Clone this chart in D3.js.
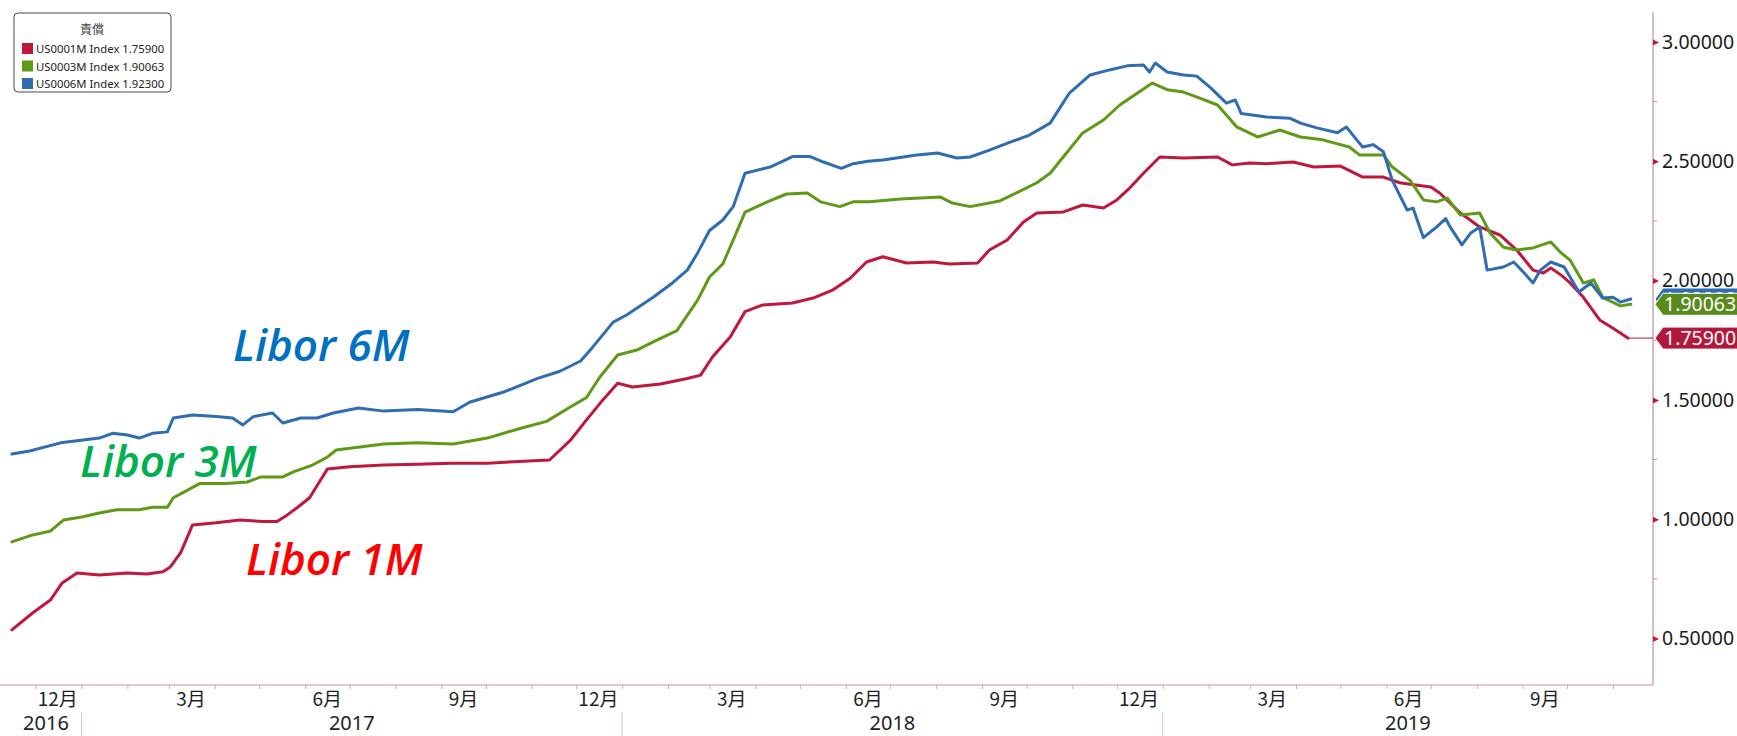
<!DOCTYPE html>
<html>
<head>
<meta charset="utf-8">
<script src="https://cdn.jsdelivr.net/npm/d3@7/dist/d3.min.js"></script>
<style>
  html, body { margin: 0; padding: 0; background: #ffffff; }
  svg { display: block; }
</style>
</head>
<body>
<svg id="chart" width="1737" height="736"></svg>
<script>
// ---- USD LIBOR fixings (percent) ----
const libor1mDates = ["2016-11-15","2016-11-29","2016-12-11","2016-12-19","2016-12-29","2017-01-13","2017-02-01","2017-02-14","2017-02-25","2017-03-02","2017-03-09","2017-03-17","2017-04-02","2017-04-18","2017-05-04","2017-05-13","2017-05-20","2017-05-27","2017-06-04","2017-06-11","2017-06-16","2017-07-01","2017-07-24","2017-08-16","2017-09-07","2017-10-02","2017-11-13","2017-11-27","2017-12-08","2017-12-19","2017-12-29","2018-01-08","2018-01-27","2018-02-14","2018-02-23","2018-03-03","2018-03-15","2018-03-25","2018-04-06","2018-04-26","2018-05-10","2018-05-23","2018-06-04","2018-06-15","2018-06-26","2018-07-12","2018-07-30","2018-08-10","2018-08-29","2018-09-06","2018-09-18","2018-09-29","2018-10-08","2018-10-26","2018-11-08","2018-11-22","2018-12-01","2018-12-10","2018-12-19","2018-12-30","2019-01-15","2019-02-07","2019-02-17","2019-03-01","2019-03-12","2019-03-30","2019-04-13","2019-05-01","2019-05-16","2019-05-30","2019-06-10","2019-06-22","2019-07-01","2019-07-07","2019-07-21","2019-08-03","2019-08-17","2019-08-28","2019-09-08","2019-09-15","2019-09-20","2019-09-27","2019-10-03","2019-10-12","2019-10-23","2019-11-01","2019-11-11"];
const libor1mValues = [0.536,0.607,0.661,0.733,0.775,0.766,0.775,0.770,0.780,0.800,0.860,0.976,0.985,0.997,0.990,0.990,1.018,1.050,1.090,1.160,1.210,1.220,1.227,1.230,1.235,1.235,1.248,1.330,1.416,1.500,1.570,1.554,1.567,1.590,1.604,1.680,1.764,1.870,1.898,1.906,1.927,1.960,2.010,2.078,2.100,2.074,2.078,2.070,2.074,2.128,2.170,2.246,2.283,2.288,2.317,2.304,2.338,2.390,2.450,2.518,2.514,2.518,2.485,2.493,2.490,2.497,2.476,2.480,2.434,2.434,2.410,2.400,2.392,2.367,2.283,2.225,2.190,2.128,2.044,2.032,2.053,2.023,1.990,1.930,1.835,1.800,1.759];

const libor3mDates = ["2016-11-15","2016-11-29","2016-12-11","2016-12-20","2017-01-02","2017-01-13","2017-01-25","2017-02-09","2017-02-18","2017-02-28","2017-03-04","2017-03-13","2017-03-22","2017-04-09","2017-04-23","2017-05-02","2017-05-17","2017-05-24","2017-06-06","2017-06-16","2017-06-22","2017-07-08","2017-07-24","2017-08-16","2017-09-09","2017-10-02","2017-10-24","2017-11-11","2017-11-27","2017-12-08","2017-12-17","2017-12-29","2018-01-11","2018-01-22","2018-02-07","2018-02-21","2018-03-01","2018-03-10","2018-03-17","2018-03-25","2018-04-09","2018-04-22","2018-05-06","2018-05-15","2018-05-28","2018-06-06","2018-06-17","2018-07-08","2018-08-04","2018-08-12","2018-08-24","2018-09-13","2018-09-25","2018-10-08","2018-10-17","2018-10-28","2018-11-08","2018-11-22","2018-12-03","2018-12-15","2018-12-25","2019-01-04","2019-01-15","2019-01-26","2019-02-07","2019-02-13","2019-02-20","2019-03-06","2019-03-21","2019-04-04","2019-04-19","2019-05-07","2019-05-14","2019-05-30","2019-06-05","2019-06-17","2019-06-26","2019-07-05","2019-07-12","2019-07-21","2019-08-03","2019-08-10","2019-08-19","2019-08-28","2019-09-08","2019-09-20","2019-09-27","2019-10-03","2019-10-12","2019-10-19","2019-10-25","2019-11-06","2019-11-13"];
const libor3mValues = [0.905,0.934,0.950,0.997,1.010,1.026,1.040,1.040,1.050,1.050,1.090,1.120,1.150,1.150,1.156,1.177,1.177,1.198,1.227,1.260,1.290,1.303,1.315,1.320,1.315,1.340,1.380,1.410,1.470,1.510,1.596,1.688,1.709,1.743,1.790,1.918,2.015,2.070,2.170,2.287,2.330,2.363,2.367,2.330,2.310,2.330,2.330,2.342,2.350,2.325,2.310,2.334,2.370,2.410,2.450,2.535,2.619,2.673,2.736,2.786,2.828,2.800,2.790,2.765,2.736,2.694,2.644,2.602,2.631,2.602,2.590,2.560,2.526,2.526,2.476,2.420,2.338,2.330,2.346,2.275,2.283,2.200,2.140,2.128,2.137,2.162,2.116,2.086,1.990,2.003,1.930,1.894,1.90063];

const libor6mDates = ["2016-11-15","2016-11-27","2016-12-18","2017-01-02","2017-01-13","2017-01-22","2017-02-01","2017-02-09","2017-02-18","2017-02-28","2017-03-04","2017-03-17","2017-04-02","2017-04-13","2017-04-20","2017-04-27","2017-05-10","2017-05-17","2017-05-29","2017-06-09","2017-06-20","2017-07-07","2017-07-24","2017-08-16","2017-09-09","2017-09-20","2017-10-13","2017-11-05","2017-11-20","2017-12-04","2017-12-12","2017-12-26","2018-01-04","2018-01-22","2018-02-04","2018-02-14","2018-02-21","2018-03-01","2018-03-10","2018-03-17","2018-03-25","2018-04-11","2018-04-26","2018-05-08","2018-05-17","2018-05-29","2018-06-06","2018-06-16","2018-06-26","2018-07-19","2018-08-02","2018-08-15","2018-08-24","2018-09-06","2018-09-20","2018-10-03","2018-10-17","2018-10-24","2018-10-30","2018-11-13","2018-11-26","2018-12-08","2018-12-19","2018-12-23","2018-12-27","2019-01-04","2019-01-15","2019-01-24","2019-02-02","2019-02-13","2019-02-19","2019-02-23","2019-03-12","2019-03-28","2019-04-04","2019-04-15","2019-04-29","2019-05-05","2019-05-12","2019-05-16","2019-05-23","2019-05-30","2019-06-05","2019-06-15","2019-06-19","2019-06-26","2019-07-05","2019-07-11","2019-07-14","2019-07-22","2019-07-28","2019-08-03","2019-08-08","2019-08-19","2019-08-26","2019-09-02","2019-09-08","2019-09-13","2019-09-20","2019-09-29","2019-10-09","2019-10-17","2019-10-25","2019-11-01","2019-11-06","2019-11-13"];
const libor6mValues = [1.273,1.286,1.320,1.332,1.340,1.360,1.353,1.340,1.360,1.366,1.424,1.437,1.430,1.424,1.395,1.430,1.445,1.403,1.424,1.424,1.445,1.466,1.453,1.460,1.450,1.490,1.533,1.590,1.620,1.663,1.720,1.826,1.856,1.930,1.990,2.044,2.116,2.210,2.254,2.310,2.450,2.476,2.520,2.520,2.497,2.470,2.490,2.500,2.505,2.526,2.535,2.514,2.518,2.547,2.580,2.610,2.660,2.728,2.786,2.862,2.883,2.900,2.904,2.874,2.912,2.874,2.862,2.857,2.810,2.744,2.757,2.700,2.686,2.680,2.660,2.640,2.620,2.644,2.590,2.560,2.570,2.540,2.420,2.296,2.304,2.180,2.225,2.260,2.225,2.150,2.200,2.225,2.044,2.057,2.078,2.032,1.990,2.044,2.078,2.057,1.952,1.990,1.927,1.930,1.910,1.923];

// ---- axis labels ----
const yTickValues = [0.5, 1.0, 1.5, 2.0, 2.5, 3.0];
const yMinorTickValues = [0.75, 1.25, 1.75, 2.25, 2.75];
const monthLabelMonths = ["2016-12","2017-03","2017-06","2017-09","2017-12","2018-03","2018-06","2018-09","2018-12","2019-03","2019-06","2019-09"];
const monthLabelText = ["12月","3月","6月","9月","12月","3月","6月","9月","12月","3月","6月","9月"];
const yearLabelText = ["2016","2017","2018","2019"];

// ---- legend / series names ----
const legendTitle = "責償";
const seriesTickers = ["US0001M Index","US0003M Index","US0006M Index"];
const seriesNames = ["Libor 1M","Libor 3M","Libor 6M"];

const parseDay = d3.timeParse("%Y-%m-%d");
const parseMonth = d3.timeParse("%Y-%m");

const series = [
  { key: "1m", dates: libor1mDates, values: libor1mValues, line: "#c0173c", box: "#b3183b", text: "#ff0000" },
  { key: "3m", dates: libor3mDates, values: libor3mValues, line: "#5f9a16", box: "#5a8a1c", text: "#00b050" },
  { key: "6m", dates: libor6mDates, values: libor6mValues, line: "#2f6db0", box: "#2f6db0", text: "#0070c0" }
].map((s, i) => ({
  ...s,
  ticker: seriesTickers[i],
  name: seriesNames[i],
  points: s.dates.map((d, j) => ({ date: parseDay(d), value: s.values[j] }))
}));

const svg = d3.select("#chart");
const plotLeft = 0, plotRight = 1653, plotTop = 12, plotBottom = 685;
const axisColor = "#c7909e";

const x = d3.scaleTime()
  .domain([new Date(2016, 10, 7), new Date(2019, 10, 28)])
  .range([plotLeft, plotRight]);
const y = d3.scaleLinear()
  .domain([0.5, 3.0])
  .range([638.5, 42]);

// ---- series lines ----
const line = d3.line().x(d => x(d.date)).y(d => y(d.value));
svg.append("g").selectAll("path")
  .data(series)
  .join("path")
  .attr("d", d => line(d.points))
  .attr("fill", "none")
  .attr("stroke", d => d.line)
  .attr("stroke-width", 3)
  .attr("stroke-linejoin", "round")
  .attr("stroke-linecap", "round");

// ---- bottom axis ----
const xAxis = d3.axisBottom(x)
  .ticks(d3.timeMonth.every(1))
  .tickSize(4)
  .tickSizeOuter(0)
  .tickFormat("");
const gx = svg.append("g").attr("transform", `translate(0,${plotBottom})`).call(xAxis);
gx.select(".domain").attr("stroke", axisColor).attr("stroke-width", 1.2).attr("d", `M${plotLeft},0H${plotRight}`);
gx.selectAll(".tick line").attr("stroke", "#c9b0b6");

svg.append("g").selectAll("text")
  .data(monthLabelMonths)
  .join("text")
  .attr("x", (d) => {
    const m0 = parseMonth(d);
    return x(new Date(m0.getFullYear(), m0.getMonth(), 16));
  })
  .attr("y", 706)
  .attr("text-anchor", "middle")
  .attr("font-family", "'Noto Sans CJK TC', 'Noto Sans', sans-serif")
  .attr("font-size", 19)
  .attr("fill", "#1e1e1e")
  .text((d, i) => monthLabelText[i]);

// year separators and labels
const [d0, d1] = x.domain();
const yearStarts = yearLabelText.map(t => new Date(+t, 0, 1));
svg.append("g").selectAll("line")
  .data(yearStarts.filter(d => d > d0))
  .join("line")
  .attr("x1", d => x(d)).attr("x2", d => x(d))
  .attr("y1", 712).attr("y2", 736)
  .attr("stroke", "#e2c2ca").attr("stroke-width", 1);

svg.append("g").selectAll("text")
  .data(yearLabelText)
  .join("text")
  .attr("x", (t) => {
    const a = Math.max(x(new Date(+t, 0, 1)), x(d0));
    const b = Math.min(x(new Date(+t + 1, 0, 1)), x(d1));
    return Math.max((a + b) / 2, 46);
  })
  .attr("y", 730)
  .attr("text-anchor", "middle")
  .attr("font-family", "'Noto Sans', sans-serif")
  .attr("font-size", 20)
  .attr("fill", "#1e1e1e")
  .text(d => d);

// ---- right axis ----
const yAxis = d3.axisRight(y)
  .tickValues(yTickValues)
  .tickSize(0)
  .tickPadding(9)
  .tickFormat(d3.format(".5f"));
const gy = svg.append("g").attr("transform", `translate(${plotRight},0)`).call(yAxis);
gy.select(".domain").attr("stroke", axisColor).attr("stroke-width", 1.2).attr("d", `M0,${plotTop}V${plotBottom}`);
gy.selectAll(".tick text")
  .attr("font-family", "'Noto Sans', sans-serif")
  .attr("font-size", 19.5)
  .attr("fill", "#1a1a1a");
gy.selectAll(".tick").append("path")
  .attr("d", "M0,-3L6,0L0,3Z")
  .attr("fill", "#c0173c");
gy.append("g").selectAll("line")
  .data(yMinorTickValues)
  .join("line")
  .attr("x1", 0).attr("x2", 4)
  .attr("y1", d => y(d)).attr("y2", d => y(d))
  .attr("stroke", axisColor);

// ---- last-value tags on the axis ----
const lastOf = s => s.points[s.points.length - 1];
const fmt = d3.format(".5f");
const s1m = series[0];
svg.append("line")
  .attr("x1", x(lastOf(s1m).date)).attr("x2", plotRight)
  .attr("y1", y(lastOf(s1m).value)).attr("y2", y(lastOf(s1m).value))
  .attr("stroke", s1m.box).attr("stroke-width", 1);

const tagOrder = [series[2], series[1], series[0]];
const tags = svg.append("g").selectAll("g")
  .data(tagOrder)
  .join("g")
  .attr("transform", d => `translate(${plotRight + 2},${y(lastOf(d).value)})`);
tags.append("path")
  .attr("d", "M0,0L8,-11H90V11H8Z")
  .attr("fill", d => d.box)
  .attr("stroke", "#ffffff")
  .attr("stroke-width", 1);
tags.append("text")
  .attr("x", 9)
  .attr("y", 7)
  .attr("font-family", "'Noto Sans', sans-serif")
  .attr("font-size", 19.5)
  .attr("fill", "#ffffff")
  .text(d => fmt(lastOf(d).value));

// ---- legend ----
const legend = svg.append("g").attr("transform", "translate(14,13)");
legend.append("rect")
  .attr("width", 157).attr("height", 79).attr("rx", 4)
  .attr("fill", "#ffffff").attr("stroke", "#4a4a4a").attr("stroke-width", 1);
legend.append("text")
  .attr("x", 78).attr("y", 21)
  .attr("text-anchor", "middle")
  .attr("font-family", "'Noto Sans CJK TC', sans-serif")
  .attr("font-size", 12)
  .attr("fill", "#444")
  .text(legendTitle);
const rows = legend.selectAll("g.row")
  .data(series)
  .join("g")
  .attr("class", "row")
  .attr("transform", (d, i) => `translate(8,${30 + i * 17.5})`);
rows.append("rect").attr("width", 11).attr("height", 11).attr("fill", d => d.line);
rows.append("text")
  .attr("x", 14).attr("y", 10)
  .attr("font-family", "'Noto Sans', sans-serif")
  .attr("font-size", 11.3)
  .attr("fill", "#222")
  .text(d => `${d.ticker} ${fmt(lastOf(d).value)}`);

// ---- series annotations ----
const notePos = { "6m": [233, 361], "3m": [80, 477], "1m": [246, 575] };
svg.append("g").selectAll("text")
  .data(series)
  .join("text")
  .attr("x", d => notePos[d.key][0])
  .attr("y", d => notePos[d.key][1])
  .attr("font-family", "'Open Sans', 'Noto Sans', sans-serif")
  .attr("font-style", "italic")
  .attr("font-weight", 600)
  .attr("font-size", 44)
  .attr("fill", d => d.text)
  .text(d => d.name);
</script>
</body>
</html>
